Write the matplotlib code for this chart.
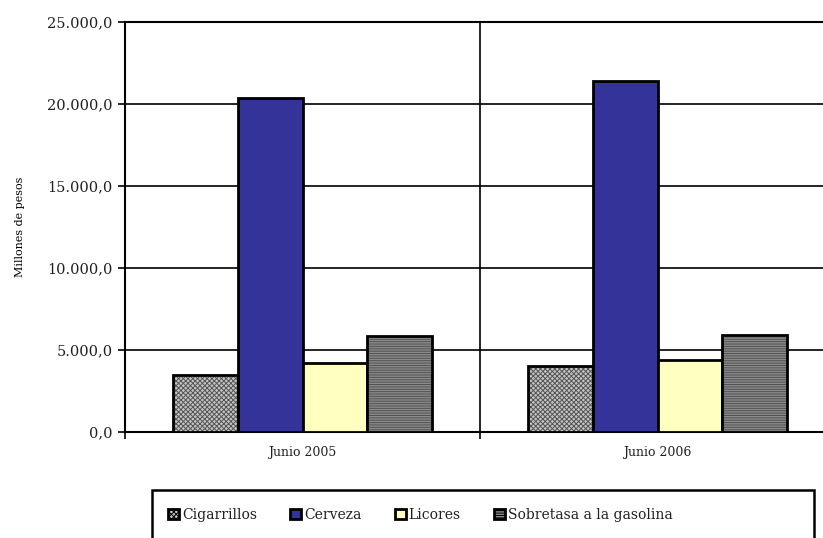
import numpy as np
import matplotlib.pyplot as plt
from matplotlib.patches import Patch, Rectangle

plt.rcParams['font.family'] = ['DejaVu Serif']
plt.rcParams['text.color'] = '#202020'
plt.rcParams['hatch.linewidth'] = 0.7

# data
categories = ['Junio 2005', 'Junio 2006']
series = ['Cigarrillos', 'Cerveza', 'Licores', 'Sobretasa a la gasolina']
cigarrillos = [3500, 4050]
cerveza = [20350, 21400]
licores = [4200, 4400]
sobretasa = [5850, 5900]
values = [cigarrillos, cerveza, licores, sobretasa]
yticks = [0, 5000, 10000, 15000, 20000, 25000]
ytick_labels = ['0,0', '5.000,0', '10.000,0', '15.000,0', '20.000,0', '25.000,0']

# styles: (facecolor, hatch, hatchcolor)
styles = [
    ('#c4c4c4', 'xxxxxxx', '#555555'),
    ('#333399', None, None),
    ('#ffffc0', None, None),
    ('#8a8a8a', '-------', '#505050'),
]

fig = plt.figure(figsize=(8.23, 5.38), dpi=100)
W, H = 823, 538
ax = fig.add_axes([125 / W, 1 - 432 / H, (835 - 125) / W, 410 / H])

x = np.arange(len(categories)) + 0.5
bw = 0.1817
for i, vals in enumerate(values):
    fc, hatch, hc = styles[i]
    pos = x + (i - 1.5) * bw
    if hatch:
        ax.bar(pos, vals, bw, color=fc, hatch=hatch, edgecolor=hc, linewidth=0, zorder=3)
        ax.bar(pos, vals, bw, fill=False, edgecolor='black', linewidth=2.0, zorder=4)
    else:
        ax.bar(pos, vals, bw, color=fc, edgecolor='black', linewidth=2.0, zorder=3)

ax.set_xlim(0, 2)
ax.set_ylim(0, 25000)
ax.set_yticks(yticks)
ax.set_yticklabels(ytick_labels, fontsize=10.5, color='#202020')
ax.yaxis.grid(True, color='black', linewidth=1.2, zorder=1)
ax.set_axisbelow(True)
ax.axvline(1, color='black', linewidth=1.2, zorder=1)
ax.set_xticks([0, 1, 2])
ax.set_xticklabels([])
ax.set_xticks(x, minor=True)
ax.set_xticklabels(categories, minor=True, fontsize=9, color='#202020')
ax.tick_params(axis='x', which='minor', length=0, pad=10)
ax.tick_params(axis='x', which='major', length=5, width=1.2, direction='out')
ax.tick_params(axis='y', length=5, width=1.2, pad=4)
for s in ['left', 'bottom', 'top']:
    ax.spines[s].set_linewidth(1.5)
ax.spines['right'].set_visible(False)
ax.set_ylabel('Millones de pesos', fontsize=8)
ax.yaxis.set_label_coords(-100 / 710, 0.5)

# legend box (cut off at bottom of the image)
fig.add_artist(Rectangle((152 / W, -0.1), (814 - 152) / W, 0.1 + 1 - 490 / H,
                         transform=fig.transFigure, fill=False, edgecolor='black',
                         linewidth=1.8, clip_on=False))
handles = []
for fc, hatch, hc in styles:
    handles.append(Patch(facecolor=fc, hatch=hatch, edgecolor='black', linewidth=2.0))
fig.legend(handles, series, loc='center left', bbox_to_anchor=(168 / W, 1 - 515 / H),
           ncol=4, frameon=False, fontsize=10, handlelength=0.8, handleheight=0.8,
           handletextpad=0.2, columnspacing=2.4, borderaxespad=0, borderpad=0)

fig.savefig('out.png', dpi=100)
